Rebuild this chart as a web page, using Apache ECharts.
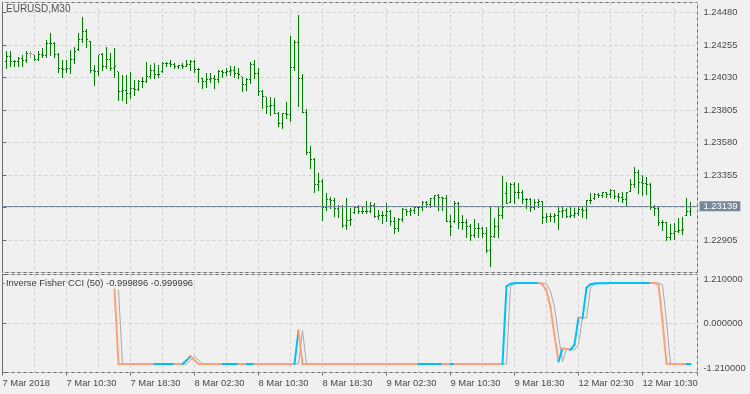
<!DOCTYPE html>
<html><head><meta charset="utf-8">
<script src="https://cdn.jsdelivr.net/npm/echarts@6/dist/echarts.min.js"></script>
<style>html,body{margin:0;padding:0;background:#f0f0f0}#c{width:750px;height:394px}</style>
</head><body><div id="c"></div><script>
// ---- data (EURUSD M30, bars numbered from 1) ----
const symbolTitle = 'EURUSD,M30';
const indicatorName = 'Inverse Fisher CCI (50)';
const dateLabels = ['7 Mar 2018','7 Mar 10:30','7 Mar 18:30','8 Mar 02:30','8 Mar 10:30','8 Mar 18:30','9 Mar 02:30','9 Mar 10:30','9 Mar 18:30','12 Mar 02:30','12 Mar 10:30'];
const openP = [
1.24140,1.24175,1.24140,1.24143,1.24164,1.24145,1.24194,1.24187,1.24157,1.24187,
1.24184,1.24268,1.24264,1.24187,1.24095,1.24083,1.24095,1.24152,1.24221,1.24291,
1.24348,1.24280,1.24076,1.24070,1.24187,1.24106,1.24152,1.24095,1.24071,1.23933,
1.23938,1.23921,1.23956,1.23950,1.24002,1.24005,1.24036,1.24078,1.24048,1.24071,
1.24129,1.24125,1.24118,1.24106,1.24110,1.24106,1.24118,1.24140,1.24083,1.24025,
1.24002,1.24014,1.24025,1.24014,1.24071,1.24066,1.24071,1.24075,1.24060,1.24036,
1.23979,1.24014,1.24118,1.24060,1.23933,1.23898,1.23829,1.23833,1.23783,1.23709,
1.23783,1.23771,1.24099,1.24275,1.24025,1.23790,1.23508,1.23459,1.23286,1.23307,
1.23133,1.23182,1.23178,1.23120,1.23140,1.23002,1.23043,1.23092,1.23127,1.23099,
1.23104,1.23099,1.23147,1.23071,1.23075,1.23078,1.23099,1.23030,1.22988,1.23050,
1.23113,1.23099,1.23106,1.23127,1.23133,1.23168,1.23154,1.23189,1.23210,1.23196,
1.23189,1.23036,1.23030,1.23161,1.23023,1.23027,1.22995,1.22939,1.22988,1.22984,
1.22953,1.22835,1.22926,1.22995,1.23078,1.23224,1.23168,1.23286,1.23231,1.23235,
1.23182,1.23186,1.23127,1.23168,1.23172,1.23064,1.23068,1.23071,1.23075,1.23099,
1.23106,1.23071,1.23078,1.23085,1.23113,1.23106,1.23175,1.23189,1.23217,1.23213,
1.23231,1.23217,1.23251,1.23203,1.23196,1.23182,1.23244,1.23286,1.23369,1.23300,
1.23293,1.23289,1.23127,1.23123,1.23023,1.23027,1.22919,1.22953,1.22967,1.22974,
1.23078,1.23099];
const highP = [
1.24210,1.24210,1.24152,1.24175,1.24187,1.24210,1.24210,1.24187,1.24210,1.24233,
1.24291,1.24337,1.24279,1.24199,1.24152,1.24152,1.24221,1.24244,1.24337,1.24448,
1.24365,1.24280,1.24118,1.24187,1.24199,1.24244,1.24199,1.24233,1.24071,1.24048,
1.24048,1.24071,1.24014,1.24014,1.24036,1.24140,1.24118,1.24129,1.24118,1.24140,
1.24140,1.24152,1.24129,1.24118,1.24129,1.24152,1.24152,1.24152,1.24095,1.24025,
1.24060,1.24060,1.24048,1.24083,1.24083,1.24095,1.24106,1.24106,1.24095,1.24036,
1.24025,1.24140,1.24152,1.24095,1.23944,1.23898,1.23898,1.23887,1.23794,1.23787,
1.23863,1.24319,1.24291,1.24464,1.24055,1.23813,1.23556,1.23473,1.23369,1.23328,
1.23231,1.23203,1.23196,1.23147,1.23147,1.23196,1.23127,1.23140,1.23147,1.23133,
1.23175,1.23168,1.23161,1.23113,1.23106,1.23161,1.23113,1.23064,1.23057,1.23127,
1.23120,1.23127,1.23133,1.23140,1.23175,1.23175,1.23196,1.23217,1.23224,1.23203,
1.23217,1.23078,1.23175,1.23168,1.23078,1.23050,1.23016,1.23050,1.23023,1.22995,
1.22995,1.23140,1.23057,1.23133,1.23348,1.23307,1.23300,1.23307,1.23300,1.23251,
1.23196,1.23196,1.23189,1.23189,1.23172,1.23092,1.23092,1.23092,1.23133,1.23133,
1.23127,1.23133,1.23127,1.23140,1.23133,1.23182,1.23231,1.23231,1.23231,1.23237,
1.23237,1.23258,1.23251,1.23231,1.23237,1.23237,1.23328,1.23411,1.23390,1.23355,
1.23341,1.23300,1.23147,1.23133,1.23043,1.23027,1.23016,1.23023,1.23057,1.23064,
1.23196,1.23168];
const lowP = [
1.24095,1.24106,1.24106,1.24106,1.24106,1.24140,1.24175,1.24152,1.24152,1.24175,
1.24175,1.24187,1.24175,1.24071,1.24036,1.24071,1.24060,1.24129,1.24221,1.24279,
1.24244,1.24071,1.23979,1.24048,1.24083,1.24095,1.24083,1.24036,1.23875,1.23875,
1.23852,1.23887,1.23910,1.23944,1.23967,1.24002,1.24025,1.24025,1.24036,1.24071,
1.24106,1.24106,1.24095,1.24095,1.24095,1.24106,1.24083,1.24071,1.24002,1.23956,
1.23967,1.24002,1.23956,1.24002,1.24036,1.24048,1.24048,1.24036,1.24025,1.23933,
1.23944,1.23991,1.24025,1.23910,1.23817,1.23783,1.23771,1.23783,1.23695,1.23683,
1.23748,1.23732,1.24083,1.23833,1.23790,1.23501,1.23404,1.23237,1.23251,1.23043,
1.23113,1.23127,1.23071,1.23064,1.22995,1.22981,1.23009,1.23092,1.23092,1.23092,
1.23092,1.23099,1.23064,1.23050,1.23023,1.23036,1.23009,1.22953,1.22967,1.23036,
1.23078,1.23078,1.23092,1.23078,1.23113,1.23133,1.23133,1.23147,1.23113,1.23113,
1.23036,1.22939,1.23030,1.22988,1.22981,1.22926,1.22905,1.22926,1.22926,1.22926,
1.22822,1.22725,1.22926,1.22926,1.23057,1.23161,1.23168,1.23161,1.23196,1.23161,
1.23127,1.23106,1.23120,1.23133,1.23023,1.23030,1.23036,1.23030,1.22981,1.23064,
1.23064,1.23064,1.23064,1.23078,1.23064,1.23057,1.23161,1.23189,1.23203,1.23203,
1.23203,1.23203,1.23196,1.23175,1.23168,1.23140,1.23244,1.23272,1.23231,1.23217,
1.23224,1.23120,1.23078,1.23009,1.22974,1.22905,1.22912,1.22912,1.22960,1.22946,
1.23078,1.23078];
const closeP = [
1.24175,1.24140,1.24143,1.24164,1.24145,1.24199,1.24194,1.24157,1.24187,1.24184,
1.24268,1.24264,1.24187,1.24095,1.24083,1.24095,1.24152,1.24210,1.24291,1.24348,
1.24290,1.24076,1.24070,1.24187,1.24106,1.24152,1.24095,1.24106,1.23933,1.23938,
1.23921,1.23956,1.23950,1.24002,1.24005,1.24036,1.24078,1.24048,1.24052,1.24129,
1.24125,1.24118,1.24106,1.24110,1.24106,1.24118,1.24140,1.24083,1.24087,1.24002,
1.24014,1.24025,1.24014,1.24071,1.24066,1.24071,1.24075,1.24060,1.24048,1.23979,
1.24014,1.24118,1.24060,1.23933,1.23898,1.23829,1.23833,1.23783,1.23709,1.23783,
1.23771,1.24099,1.24275,1.24025,1.23790,1.23508,1.23459,1.23286,1.23307,1.23133,
1.23182,1.23178,1.23120,1.23140,1.23002,1.23043,1.23050,1.23127,1.23099,1.23104,
1.23099,1.23147,1.23071,1.23075,1.23078,1.23099,1.23030,1.22988,1.23050,1.23113,
1.23099,1.23106,1.23127,1.23133,1.23168,1.23154,1.23189,1.23210,1.23196,1.23189,
1.23036,1.22995,1.23161,1.23023,1.23027,1.22995,1.22939,1.22988,1.22984,1.22953,
1.22835,1.22926,1.22995,1.23078,1.23133,1.23161,1.23286,1.23231,1.23235,1.23182,
1.23186,1.23127,1.23168,1.23172,1.23064,1.23068,1.23071,1.23075,1.23099,1.23106,
1.23071,1.23078,1.23085,1.23113,1.23106,1.23175,1.23179,1.23217,1.23213,1.23231,
1.23217,1.23251,1.23203,1.23196,1.23182,1.23237,1.23286,1.23369,1.23300,1.23293,
1.23289,1.23127,1.23123,1.23023,1.23027,1.22919,1.22953,1.22967,1.22974,1.22981,
1.23099,1.23139];
const fisherValue = [
null,null,null,null,null,null,null,null,null,null,
null,null,null,null,null,null,null,null,null,null,
null,null,null,null,null,null,null,
0.84,-0.9999,
-0.9999,-0.9999,-0.9999,-0.9999,-0.9999,-0.9999,-0.9999,-0.9999,-0.9999,
-0.99988,-0.99986,-0.99984,-0.99982,-0.9998,
-0.99985,-0.9999,
-0.91,-0.81,-0.91,-0.9999,
-0.9999,-0.9999,-0.9999,-0.9999,-0.9999,-0.9999,
-0.99988,-0.99986,-0.99984,-0.99982,
-0.99986,-0.9999,
-0.99988,-0.99986,
-0.9999,-0.9999,-0.9999,-0.9999,-0.9999,-0.9999,-0.9999,-0.9999,-0.9999,-0.9999,
-0.17,
-0.9999,-0.9999,-0.9999,-0.9999,-0.9999,-0.9999,-0.9999,-0.9999,-0.9999,-0.9999,
-0.9999,-0.9999,-0.9999,-0.9999,-0.9999,-0.9999,-0.9999,-0.9999,-0.9999,-0.9999,
-0.9999,-0.9999,-0.9999,-0.9999,-0.9999,-0.9999,-0.9999,-0.9999,-0.9999,-0.9999,
-0.99988,-0.99986,-0.99984,-0.99982,-0.9998,-0.99978,
-0.99984,-0.9999,
-0.99986,
-0.9999,-0.9999,-0.9999,-0.9999,-0.9999,-0.9999,-0.9999,-0.9999,-0.9999,-0.9999,-0.9999,-0.9999,
0.92,0.98,0.995,0.999,0.9993,0.9995,0.9997,0.9998,0.9999,
0.97,0.80,0.40,-0.30,-0.94,
-0.62,-0.63,-0.65,-0.52,0.15,0.13,0.88,0.97,0.99,
0.995,0.996,0.997,0.9975,0.998,0.9984,0.9987,0.999,0.9992,0.9994,0.9995,0.9996,0.9997,0.9998,
0.999,0.96,0.06,-0.99,-0.9995,-0.9998,-0.9999,-0.99993,-0.99995,-0.999896];
const fisherSignal = [
null,null,null,null,null,null,null,null,null,null,
null,null,null,null,null,null,null,null,null,null,
null,null,null,null,null,null,null,null,
0.84,-0.9999,
-0.9999,-0.9999,-0.9999,-0.9999,-0.9999,-0.9999,-0.9999,-0.9999,-0.9999,
-0.99988,-0.99986,-0.99984,-0.99982,-0.9998,
-0.99985,-0.9999,
-0.91,-0.81,-0.91,-0.9999,
-0.9999,-0.9999,-0.9999,-0.9999,-0.9999,-0.9999,
-0.99988,-0.99986,-0.99984,-0.99982,
-0.99986,-0.9999,
-0.99988,-0.99986,
-0.9999,-0.9999,-0.9999,-0.9999,-0.9999,-0.9999,-0.9999,-0.9999,-0.9999,-0.9999,
-0.17,
-0.9999,-0.9999,-0.9999,-0.9999,-0.9999,-0.9999,-0.9999,-0.9999,-0.9999,-0.9999,
-0.9999,-0.9999,-0.9999,-0.9999,-0.9999,-0.9999,-0.9999,-0.9999,-0.9999,-0.9999,
-0.9999,-0.9999,-0.9999,-0.9999,-0.9999,-0.9999,-0.9999,-0.9999,-0.9999,-0.9999,
-0.99988,-0.99986,-0.99984,-0.99982,-0.9998,-0.99978,
-0.99984,-0.9999,
-0.99986,
-0.9999,-0.9999,-0.9999,-0.9999,-0.9999,-0.9999,-0.9999,-0.9999,-0.9999,-0.9999,-0.9999,-0.9999,
0.92,0.98,0.995,0.999,0.9993,0.9995,0.9997,0.9998,0.9999,
0.97,0.80,0.40,-0.30,-0.94,
-0.62,-0.63,-0.65,-0.52,0.15,0.13,0.88,0.97,0.99,
0.995,0.996,0.997,0.9975,0.998,0.9984,0.9987,0.999,0.9992,0.9994,0.9995,0.9996,0.9997,0.9998,
0.999,0.96,0.06,-0.99,-0.9995,-0.9998,-0.9999,-0.99993,-0.999996];

// ---- styling ----
const FONT = 'Liberation Sans';
const FS = 9.4;
const TXT = '#4a4a4a';
const FRAME = '#6e6e6e';
const GRIDC = '#d0d0d0';
const BAR_GREEN = '#008000';
const DOJI = '#a0a0a0';
const UP_BLUE = '#00bfff';
const DN_ORANGE = '#ffa07a';
const SIG_GRAY = '#a9a9a9';
const PRICE_LINE = '#778899';

const N = closeP.length;
const barData = openP.map((o, i) => [i + 1, o, highP[i], lowP[i], closeP[i]]);
const segData = [];
for (let i = 0; i + 1 < fisherValue.length; i++) {
  if (fisherValue[i] != null && fisherValue[i + 1] != null) segData.push([i + 1, fisherValue[i], fisherValue[i + 1]]);
}
const sigData = fisherSignal.map((s, i) => [i + 1, s]);
const lastClose = closeP[N - 1];
const legendText = indicatorName + ' ' + fisherValue[N - 1].toFixed(6) + ' ' + fisherSignal[N - 1].toFixed(6);

function renderBar(params, api) {
  const n = api.value(0), o = api.value(1), h = api.value(2), l = api.value(3), c = api.value(4);
  const pH = api.coord([n, h]), pL = api.coord([n, l]), pO = api.coord([n, o]), pC = api.coord([n, c]);
  const x = Math.floor(pH[0]) + 0.5;
  const yH = Math.round(pH[1]), yL = Math.round(pL[1]) + 1;
  const yO = Math.floor(pO[1]) + 0.5, yC = Math.floor(pC[1]) + 0.5;
  const col = (o === c) ? DOJI : BAR_GREEN;
  const st = { stroke: col, lineWidth: 1 };
  return { type: 'group', children: [
    { type: 'line', shape: { x1: x, y1: yH, x2: x, y2: yL }, style: st },
    { type: 'line', shape: { x1: x - 1.5, y1: yO, x2: x - 0.5, y2: yO }, style: st },
    { type: 'line', shape: { x1: x + 0.5, y1: yC, x2: x + 1.5, y2: yC }, style: st }
  ]};
}
function renderSeg(params, api) {
  const n = api.value(0), a = api.value(1), b = api.value(2);
  const p1 = api.coord([n, a]), p2 = api.coord([n + 1, b]);
  return { type: 'line', shape: { x1: p1[0], y1: p1[1], x2: p2[0], y2: p2[1] },
    style: { stroke: b > a ? UP_BLUE : DN_ORANGE, lineWidth: 2, lineCap: 'round' } };
}

const xSplit = (gi) => ({ gridIndex: gi, type: 'value', min: 0, max: 173.75, interval: 8,
  axisLine: { show: false }, axisTick: { show: false }, axisLabel: { show: false },
  splitLine: { show: true, lineStyle: { color: GRIDC, type: [3, 3], width: 1 } } });

const txt = { fontFamily: FONT, fontSize: FS, color: TXT };

const option = {
  backgroundColor: '#f0f0f0',
  animation: false,
  textStyle: { fontFamily: FONT },
  title: [
    { text: symbolTitle, left: 6, top: 4, padding: 0, textStyle: Object.assign({ fontWeight: 'normal' }, txt, { fontSize: 10, color: '#505050' }) },
    { text: legendText, left: 6, top: 279, padding: 0, textStyle: Object.assign({ fontWeight: 'normal' }, txt, { color: '#3c3c3c' }) }
  ],
  graphic: [ { type: 'rect', shape: { x: 3, y: 283, width: 2, height: 1 }, style: { fill: UP_BLUE }, silent: true } ],
  grid: [
    { left: 2.5, top: 2.5, width: 695, height: 270, show: true, borderColor: FRAME, borderWidth: 1, containLabel: false, outerBoundsMode: 'none' },
    { left: 2.5, top: 274.5, width: 695, height: 98, show: true, borderColor: FRAME, borderWidth: 1, containLabel: false, outerBoundsMode: 'none' }
  ],
  xAxis: [
    xSplit(0), xSplit(1),
    { gridIndex: 1, type: 'value', min: 0, max: 173.75, interval: 16, position: 'bottom',
      axisLine: { show: false }, splitLine: { show: false },
      axisTick: { show: true, length: 3, lineStyle: { color: FRAME } },
      axisLabel: Object.assign({ show: true, align: 'left', margin: 6, hideOverlap: false,
        formatter: (v) => { const k = Math.round(v / 16); return (Math.abs(v - 16 * k) < 1e-6 && k < dateLabels.length) ? dateLabels[k] : ''; } }, txt) }
  ],
  yAxis: [
    { gridIndex: 0, type: 'value', position: 'right', min: 1.22680, max: 1.24549, interval: 0.00225,
      axisLine: { show: true, lineStyle: { color: FRAME } },
      axisTick: { show: true, length: 4, lineStyle: { color: FRAME } },
      splitLine: { show: true, lineStyle: { color: GRIDC, type: [3, 3], width: 1 } },
      axisLabel: Object.assign({ margin: 6, showMinLabel: false, showMaxLabel: false, hideOverlap: false,
        formatter: (v) => v.toFixed(5) }, txt) },
    { gridIndex: 1, type: 'value', position: 'right', min: -1.21, max: 1.21, interval: 1.21,
      axisLine: { show: true, lineStyle: { color: FRAME } },
      axisTick: { show: true, length: 4, lineStyle: { color: FRAME } },
      splitLine: { show: true, lineStyle: { color: GRIDC, type: [3, 3], width: 1 } },
      axisLabel: Object.assign({ margin: 6, hideOverlap: false,
        formatter: (v) => { const s = v.toFixed(6); if (v > 0.5) return '{t|' + s + '}'; if (v < -0.5) return '{b|' + s + '}'; return s; },
        rich: { t: Object.assign({ padding: [9, 0, 0, 0] }, txt), b: Object.assign({ padding: [0, 0, 9, 0] }, txt) } }, txt) }
  ],
  series: [
    { type: 'line', name: 'price', xAxisIndex: 0, yAxisIndex: 0, data: [[N, lastClose]], symbol: 'none', showSymbol: false,
      lineStyle: { width: 0 }, z: 2, silent: true,
      markLine: { silent: true, symbol: ['none', 'none'], animation: false, precision: 5,
        lineStyle: { color: PRICE_LINE, width: 1, type: 'solid' },
        label: { show: true, position: 'end', distance: 2, formatter: () => lastClose.toFixed(5),
          backgroundColor: PRICE_LINE, color: '#ffffff', fontFamily: FONT, fontSize: FS, lineHeight: 9, padding: [1, 3, 0, 4] },
        emphasis: { disabled: true },
        data: [ { yAxis: lastClose } ] } },
    { type: 'custom', name: 'bars', xAxisIndex: 0, yAxisIndex: 0, renderItem: renderBar, data: barData,
      encode: { x: 0, y: [1, 2, 3, 4] }, clip: true, z: 3, silent: true },
    { type: 'line', name: 'signal', xAxisIndex: 1, yAxisIndex: 1, data: sigData, symbol: 'none', showSymbol: false,
      connectNulls: false, lineStyle: { color: SIG_GRAY, width: 1 }, z: 2, silent: true },
    { type: 'custom', name: 'value', xAxisIndex: 1, yAxisIndex: 1, renderItem: renderSeg, data: segData,
      encode: { x: 0, y: [1, 2] }, clip: true, z: 3, silent: true }
  ]
};
const chart = echarts.init(document.getElementById('c'), null, { renderer: 'canvas' });
chart.setOption(option);
</script></body></html>
